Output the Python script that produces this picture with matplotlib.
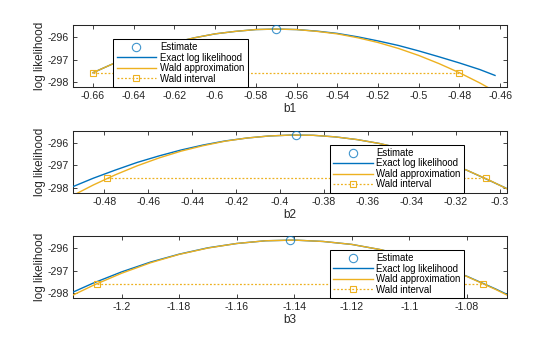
import matplotlib
matplotlib.use("Agg")
import matplotlib.pyplot as plt
from matplotlib.lines import Line2D

plt.rcParams['font.family'] = ['Liberation Sans', 'DejaVu Sans']
plt.rcParams['axes.unicode_minus'] = False

BLUE = '#0072BD'
GOLD = '#EDB120'

# ---- subplot 1 (b1) ----
b1_grid = [-0.66, -0.65, -0.64, -0.63, -0.62, -0.61, -0.60, -0.59, -0.58, -0.57,
           -0.56, -0.55, -0.54, -0.53, -0.52, -0.51, -0.50, -0.49, -0.48, -0.47, -0.4625]
b1_exact = [-297.58, -297.18, -296.82, -296.51, -296.25, -296.04, -295.87, -295.76, -295.68, -295.66,
            -295.68, -295.75, -295.85, -296.00, -296.18, -296.38, -296.62, -296.88, -297.15, -297.44, -297.70]
b1_wald = [-297.58, -297.18, -296.82, -296.51, -296.25, -296.04, -295.87, -295.76, -295.68, -295.66,
           -295.68, -295.76, -295.87, -296.04, -296.25, -296.51, -296.82, -297.18, -297.58, -298.03, -298.40]
b1_est = -0.570
b1_interval = [-0.66, -0.48]

# ---- subplot 2 (b2) ----
b2_grid = [-0.4942, -0.485, -0.475, -0.465, -0.455, -0.445, -0.435, -0.425, -0.415, -0.405, -0.395,
           -0.385, -0.375, -0.365, -0.355, -0.345, -0.335, -0.325, -0.315, -0.305, -0.2968]
b2_exact = [-297.94, -297.57, -297.21, -296.87, -296.58, -296.32, -296.10, -295.92, -295.79, -295.70, -295.66,
            -295.67, -295.74, -295.86, -296.03, -296.25, -296.52, -296.84, -297.22, -297.66, -298.03]
b2_wald = [-298.33, -297.87, -297.42, -297.02, -296.67, -296.37, -296.13, -295.93, -295.79, -295.70, -295.66,
           -295.67, -295.74, -295.86, -296.03, -296.25, -296.52, -296.84, -297.22, -297.65, -298.04]
b2_est = -0.3926
b2_interval = [-0.4786, -0.3065]

# ---- subplot 3 (b3) ----
b3_grid = [-1.2169, -1.21, -1.20, -1.19, -1.18, -1.17, -1.16, -1.15, -1.14,
           -1.13, -1.12, -1.11, -1.10, -1.09, -1.08, -1.07, -1.066]
b3_exact = [-297.95, -297.56, -297.06, -296.63, -296.28, -296.00, -295.81, -295.69, -295.66,
            -295.72, -295.85, -296.08, -296.39, -296.78, -297.25, -297.81, -298.05]
b3_wald = [-298.08, -297.66, -297.12, -296.66, -296.29, -296.01, -295.81, -295.69, -295.66,
           -295.72, -295.85, -296.08, -296.39, -296.78, -297.26, -297.83, -298.08]
b3_est = -1.1414
b3_interval = [-1.2085, -1.0742]

loglik_max = -295.66
interval_level = -297.58

x_labels = ['b1', 'b2', 'b3']
y_label = 'log likelihood'
y_ticks = [-298, -297, -296]
y_tick_labels = ['-298', '-297', '-296']

x_ticks_1 = [-0.66, -0.64, -0.62, -0.60, -0.58, -0.56, -0.54, -0.52, -0.50, -0.48, -0.46]
x_tick_labels_1 = ['-0.66', '-0.64', '-0.62', '-0.6', '-0.58', '-0.56', '-0.54', '-0.52', '-0.5', '-0.48', '-0.46']
x_ticks_2 = [-0.48, -0.46, -0.44, -0.42, -0.40, -0.38, -0.36, -0.34, -0.32, -0.30]
x_tick_labels_2 = ['-0.48', '-0.46', '-0.44', '-0.42', '-0.4', '-0.38', '-0.36', '-0.34', '-0.32', '-0.3']
x_ticks_3 = [-1.20, -1.18, -1.16, -1.14, -1.12, -1.10, -1.08]
x_tick_labels_3 = ['-1.2', '-1.18', '-1.16', '-1.14', '-1.12', '-1.1', '-1.08']

legend_labels = ['Estimate', 'Exact log likelihood', 'Wald approximation', 'Wald interval']

panels = [
    dict(grid=b1_grid, exact=b1_exact, wald=b1_wald, est=b1_est, ci=b1_interval,
         xlim=(-0.6698, -0.4566), ticks=x_ticks_1, labels=x_tick_labels_1,
         pos=[0.1304, 0.7418, 0.775, 0.184], leg_x=0.093),
    dict(grid=b2_grid, exact=b2_exact, wald=b2_wald, est=b2_est, ci=b2_interval,
         xlim=(-0.4942, -0.2968), ticks=x_ticks_2, labels=x_tick_labels_2,
         pos=[0.1304, 0.4282, 0.775, 0.1831], leg_x=0.592),
    dict(grid=b3_grid, exact=b3_exact, wald=b3_wald, est=b3_est, ci=b3_interval,
         xlim=(-1.2169, -1.066), ticks=x_ticks_3, labels=x_tick_labels_3,
         pos=[0.1304, 0.1157, 0.775, 0.184], leg_x=0.592),
]

fig = plt.figure(figsize=(5.6, 3.37), dpi=100)

for i, p in enumerate(panels):
    ax = fig.add_axes(p['pos'])
    h_est, = ax.plot([p['est']], [loglik_max], linestyle='none', marker='o', ms=6,
                     mfc='none', mec=BLUE, mew=0.8, alpha=0.75, zorder=5)
    h_exact, = ax.plot(p['grid'], p['exact'], color=BLUE, lw=1.0, zorder=3)
    h_wald, = ax.plot(p['grid'], p['wald'], color=GOLD, lw=1.0, zorder=4)
    h_int, = ax.plot(p['ci'], [interval_level, interval_level], color=GOLD, lw=0.9,
                     linestyle=(0, (1.5, 1.5)), marker='s', ms=5, mfc='none',
                     mec=GOLD, mew=0.8, zorder=4)
    ax.set_xlim(*p['xlim'])
    ax.set_ylim(-298.21, -295.48)
    ax.set_xticks(p['ticks'])
    ax.set_xticklabels(p['labels'])
    ax.set_yticks(y_ticks)
    ax.set_yticklabels(y_tick_labels)
    ax.tick_params(direction='in', length=3, width=0.6, top=True, right=True,
                   labelsize=7.7, pad=3, colors='#262626')
    for s in ax.spines.values():
        s.set_linewidth(0.75)
        s.set_color('#262626')
    ax.set_xlabel(x_labels[i], fontsize=8.5, labelpad=0, color='#262626')
    ax.xaxis.set_label_coords(0.5, -0.26)
    ax.set_ylabel(y_label, fontsize=8.5, labelpad=1, color='#262626')
    leg_h_est = Line2D([], [], linestyle='none', marker='o', ms=6, mfc='none', mec=BLUE, mew=0.8, alpha=0.75)
    leg_h_int = Line2D([], [], color=GOLD, lw=0.9, linestyle=(0, (1.5, 1.5)), marker='s', ms=5,
                       mfc='none', mec=GOLD, mew=0.8)
    leg = ax.legend([leg_h_est, h_exact, h_wald, leg_h_int], legend_labels,
                    loc='lower left', bbox_to_anchor=(p['leg_x'], 0.0), fontsize=6.9,
                    frameon=True, fancybox=False, edgecolor='black', framealpha=1,
                    borderaxespad=0, borderpad=0.35, handlelength=4.1, handletextpad=0.4,
                    labelspacing=0.05, numpoints=1)
    leg.get_frame().set_linewidth(0.75)
    leg.set_zorder(10)

fig.savefig('out.png', dpi=100)
